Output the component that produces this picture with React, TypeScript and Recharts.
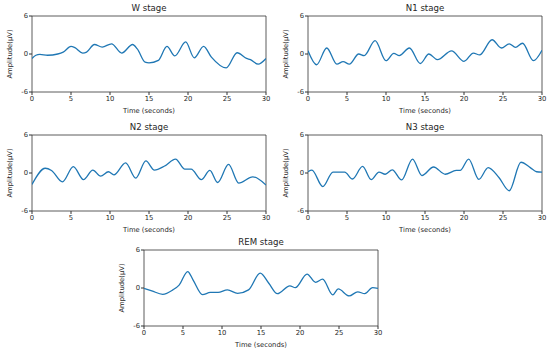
import React from 'react';
import { LineChart, Line, XAxis, YAxis, ReferenceArea } from 'recharts';

const xTicks = [0, 5, 10, 15, 20, 25, 30];
const yTicks = [-6, 0, 6];

const wTime = [0, 0.5, 1, 2, 3.3, 4, 5, 5.5, 6.5, 7, 8, 9, 10.2, 11.5, 12.9, 13.5, 14.5, 15, 16.2, 17.3, 18.3, 19.7, 20.8, 22, 23, 24.9, 26.3, 27.5, 28, 29, 30];
const wAmp = [-0.7, -0.2, -0.05, -0.2, 0, 0.3, 1.2, 1.0, 0.15, 0.3, 1.5, 1.1, 1.6, 0.15, 1.5, 0.8, -1.3, -1.4, -1.0, 1.2, -0.3, 1.9, -0.6, 1.2, -0.5, -2.2, 0.2, -0.7, -0.9, -1.6, -0.7];

const n1Time = [0, 1.1, 2.4, 3.7, 4.5, 5.3, 6.5, 7.2, 8.6, 10, 11, 11.7, 13, 14.4, 15.5, 16.6, 18.4, 20, 21.2, 22, 23.6, 24.8, 25.8, 26.6, 27.5, 28.9, 30];
const n1Amp = [0.5, -1.7, 0.95, -1.6, -1.2, -1.6, 0, -0.25, 2.1, -1.05, 0.1, -0.25, 0.95, -1.5, 0, -0.9, 0.5, -1.15, 0.15, -0.15, 2.25, 0.95, 1.6, 1.05, 1.7, -1.05, 0.6];

const n2Time = [0, 1.7, 2.5, 3.9, 5.3, 6.6, 7.8, 8.8, 9.8, 10.5, 12, 13.3, 14.6, 15.7, 17, 18.4, 19.6, 20.4, 21.7, 22.8, 23.8, 25.2, 26.5, 28.3, 30];
const n2Amp = [-1.8, 0.75, 0.4, -1.4, 1.0, -1.05, 0.45, -0.5, 0.2, -0.3, 1.6, -0.8, 1.9, 0.45, 1.1, 2.2, 0.6, 0.6, -1.05, 0.4, -1.5, 1.35, -1.6, -0.6, -1.9];

const n3Time = [0, 0.5, 1.9, 3.2, 4.7, 5.7, 7, 8.1, 9.1, 9.9, 10.8, 12, 13.4, 14.6, 16.1, 17.6, 19, 19.5, 20.6, 21.9, 23.1, 24.5, 25.8, 27.3, 28.5, 29.3, 30];
const n3Amp = [0.2, 0.45, -2.15, 0.15, 0.15, -0.95, 1.05, -1.05, 0.15, -0.2, 0.5, -1.1, 2.2, -0.4, 0.95, -0.2, 0.4, 0.4, 2.2, -1.0, 0.85, -0.75, -2.8, 1.7, 0.85, 0.2, 0.15];

const remTime = [0, 1, 2.4, 3.7, 4.5, 5.6, 6.3, 7.5, 8.5, 9.5, 10.7, 12, 13.4, 14.9, 16, 17.1, 18.7, 19.4, 20.9, 22, 22.9, 24.2, 24.9, 26.3, 27.4, 28.3, 29.3, 30];
const remAmp = [-0.05, -0.45, -1.0, -0.3, 0.45, 2.6, 1.25, -1.05, -0.7, -0.7, -0.3, -0.85, -0.3, 2.35, 0.75, -0.9, 0.35, 0.05, 2.2, 0.9, 1.4, -1.1, -0.15, -1.25, -0.6, -0.9, 0.05, -0.05];

const FONT = '"DejaVu Sans", sans-serif';
const TXT = '#262626';
const AX = '#333';

type PanelProps = { title: string; time: number[]; amp: number[]; left: number; top: number; width: number };

const Panel = ({ title, time, amp, left, top, width }: PanelProps) => {
  const data = time.map((t, i) => ({ t, v: amp[i] }));
  const plotLeft = 32;
  const plotRight = plotLeft + 234;
  return (
    <div style={{ position: 'absolute', left, top, width, height: 118 }}>
      <div
        style={{
          position: 'absolute',
          top: 2,
          left: plotLeft,
          width: 234,
          textAlign: 'center',
          fontSize: 8.6,
          lineHeight: '12px',
          fontFamily: FONT,
          color: TXT,
        }}
      >
        {title}
      </div>
      <LineChart width={width} height={118} data={data} margin={{ top: 16, right: width - plotRight, bottom: 5, left: 10 }}>
        <XAxis
          dataKey="t"
          type="number"
          domain={[0, 30]}
          ticks={xTicks}
          allowDataOverflow
          height={21}
          axisLine={false}
          tickSize={3}
          tickMargin={1}
          tickLine={{ stroke: AX }}
          tick={{ fontSize: 6.8, fill: TXT, fontFamily: FONT }}
          label={{ value: 'Time (seconds)', position: 'insideBottom', offset: 0, style: { fontSize: 6.8, fill: TXT, fontFamily: FONT } }}
        />
        <YAxis
          type="number"
          domain={[-6, 6]}
          ticks={yTicks}
          allowDataOverflow
          width={22}
          axisLine={false}
          tickSize={3}
          tickMargin={1}
          tickLine={{ stroke: AX }}
          tick={{ fontSize: 6.8, fill: TXT, fontFamily: FONT }}
          label={{ value: 'Amplitude(μV)', angle: -90, position: 'insideLeft', offset: 0, style: { fontSize: 6.8, fill: TXT, fontFamily: FONT, textAnchor: 'middle' } }}
        />
        <ReferenceArea x1={0} x2={30} y1={-6} y2={6} fill="none" stroke={AX} strokeWidth={0.8} ifOverflow="visible" />
        <Line type="monotone" dataKey="v" stroke="#1f77b4" strokeWidth={1.3} dot={false} isAnimationActive={false} />
      </LineChart>
    </div>
  );
};

export default function App() {
  return (
    <div style={{ position: 'absolute', left: 0, top: 0, width: 550, height: 352, background: '#fff' }}>
      <Panel title="W stage" time={wTime} amp={wAmp} left={0} top={0} width={275} />
      <Panel title="N1 stage" time={n1Time} amp={n1Amp} left={276} top={0} width={274} />
      <Panel title="N2 stage" time={n2Time} amp={n2Amp} left={0} top={119} width={275} />
      <Panel title="N3 stage" time={n3Time} amp={n3Amp} left={276} top={119} width={274} />
      <Panel title="REM stage" time={remTime} amp={remAmp} left={112} top={234} width={275} />
    </div>
  );
}
